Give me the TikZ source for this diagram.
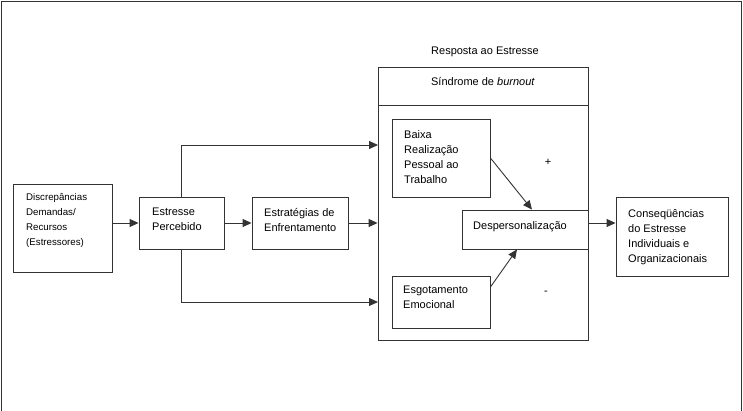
\documentclass[tikz,border=0pt]{standalone}
\usepackage{fontspec}
\setmainfont{Liberation Sans}
\usetikzlibrary{arrows.meta}
\begin{document}
\begin{tikzpicture}[x=1pt,y=-1pt,
  font=\fontsize{11}{15}\selectfont,
  line/.style={draw=black!80, line width=0.9pt},
  box/.style={line, rectangle, inner sep=0pt},
  txt/.style={anchor=north west, inner sep=0pt, align=left, text=black},
  lbl/.style={inner sep=0pt, text=black},
  arr/.style={line, -{Triangle[length=9pt,width=8pt]}},
]
\useasboundingbox (0,0) rectangle (743,411);
% outer frame (open at the bottom)
\coordinate (f1) at (1,411);
\coordinate (f2) at (1,1);
\coordinate (f3) at (741,1);
\coordinate (f4) at (741,411);
\draw[line] (f1) -- (f2) -- (f3) -- (f4);

% boxes
\node[box, minimum width=99pt, minimum height=88pt] (disc) at (62.5,228) {};
\node[box, minimum width=85pt, minimum height=52pt] (perc) at (181.5,223) {};
\node[box, minimum width=96pt, minimum height=52pt] (estr) at (300,223) {};
\node[box, minimum width=210pt, minimum height=273pt] (big) at (483,203.5) {};
\node[box, minimum width=98pt, minimum height=78pt] (baixa) at (441,158) {};
\node[box, minimum width=126pt, minimum height=39pt] (desp) at (525,229.5) {};
\node[box, minimum width=98pt, minimum height=52pt] (esgot) at (441,302) {};
\node[box, minimum width=112pt, minimum height=79pt] (cons) at (672,236.5) {};

\coordinate (hl) at (378,105);
\coordinate (hr) at (588,105);
\draw[line] (hl) -- (hr);

% texts
\node[txt, font=\fontsize{9.7}{15}\selectfont] (tdisc) at (26,193.5)
  {Discrepâncias\\Demandas/\\Recursos\\(Estressores)};
\node[txt] (tperc) at (152,208) {Estresse\\Percebido};
\node[txt] (testr) at (264,208) {Estratégias de\\Enfrentamento};
\node[txt] (tbaixa) at (404,130) {Baixa\\Realização\\Pessoal ao\\Trabalho};
\node[txt] (tdesp) at (473,221) {Despersonalização};
\node[txt] (tesgot) at (403,286) {Esgotamento\\Emocional};
\node[txt] (tcons) at (628,209) {Conseqüências\\do Estresse\\Individuais e\\Organizacionais};
\node[lbl] (tresp) at (485,52) {Resposta ao Estresse};
\node[lbl] (tsind) at (483,82) {Síndrome de \textit{burnout}};
\node[lbl] (plus) at (548,162) {+};
\node[lbl] (minus) at (546,293) {-};

% connectors
\coordinate (in1) at (378,145);
\coordinate (in2) at (378,302);
\draw[arr] (perc.west -| disc.east) -- (perc.west);
\draw[arr] (perc.east) -- (estr.west);
\draw[arr] (estr.east) -- (estr.east -| big.west);
\draw[arr] (perc.north) |- (in1);
\draw[arr] (perc.south) |- (in2);
\draw[arr] (baixa.east) -- ([xshift=7pt]desp.north);
\draw[arr] ([yshift=15pt]esgot.east) -- ([xshift=-8pt]desp.south);
\draw[arr] (desp.east |- perc.east) -- (cons.west |- perc.east);
\end{tikzpicture}
\end{document}
